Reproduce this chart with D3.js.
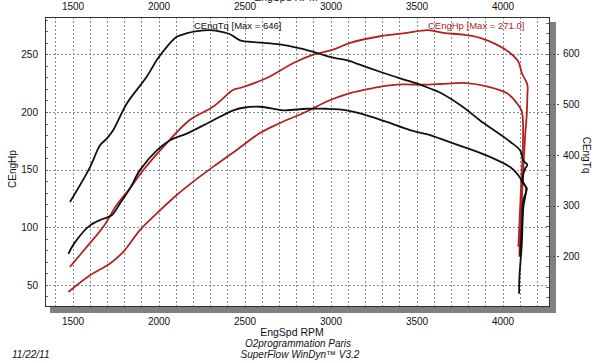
<!DOCTYPE html>
<meta charset='utf-8'>
<style>
  body { margin: 0; background: #fff; }
  text { font-family: "Liberation Sans", Arial, sans-serif; fill: #111; }
  .grid line { stroke: #8c8c8c; stroke-width: 1; stroke-dasharray: 2,2; shape-rendering: crispEdges; }
  .tick text { font-size: 10px; }
  .run { fill: none; stroke-width: 1.8; stroke-linejoin: round; }
</style>
<svg width="600" height="363"></svg>
<script src="https://d3js.org/d3.v7.min.js"></script>
<script>

// rpm ticks and grid
var rpmTicks = [1500, 2000, 2500, 3000, 3500, 4000];
var hpTicks = [50, 100, 150, 200, 250];
var tqTicks = [200, 300, 400, 500, 600];

// run A torque (black, upper)  [rpm, Nm]
var tqA = [[1485,307],[1602,376],[1660,419],[1699,432],[1737,449],[1815,501],[1931,554],[1990,587],
  [2048,613],[2106,633],[2166,640],[2224,644],[2300,646],[2375,642],[2416,638],[2474,626],[2572,622],
  [2706,618],[2823,610],[2921,601],[3015,592],[3113,585],[3152,580],[3288,564],[3404,551],[3501,541],
  [3578,531],[3636,523],[3772,494],[3869,468],[3966,445],[4044,426],[4102,409],[4121,389],[4144,380],
  [4131,373],[4117,350],[4137,334],[4121,297],[4112,225],[4098,159],[4096,126]];

// run B torque (black, lower)
var tqB = [[1476,205],[1515,228],[1602,261],[1679,274],[1728,281],[1776,304],[1834,334],[1892,370],
  [1990,409],[2067,429],[2164,442],[2299,465],[2435,488],[2493,493],[2590,495],[2726,488],[2862,491],
  [2978,491],[3094,488],[3210,478],[3327,465],[3462,449],[3579,439],[3637,432],[3772,416],[3927,396],
  [4044,376],[4092,360],[4121,343],[4141,334],[4121,311],[4112,258],[4102,202]];

// run A power (red, upper)  [rpm, hp]
var hpA = [[1485,65.7],[1583,83],[1679,100.4],[1757,119.3],[1834,133.8],[1912,149.7],[2048,173],
  [2183,193.2],[2319,204.8],[2435,219.3],[2474,220.8],[2629,229.5],[2784,242.5],[2900,249.7],
  [3016,254.1],[3113,259.9],[3288,265.7],[3443,268.6],[3567,271.0],[3656,268.6],[3772,267.1],
  [3869,264.3],[3966,258.4],[4044,251.2],[4092,243.7],[4112,233.8],[4144,223.7],[4144,213.5],
  [4141,199],[4131,178.7],[4121,152.6],[4112,123.7],[4102,94.7],[4098,74.3]];

// run B power (red, lower)
var hpB = [[1476,43.9],[1602,58.4],[1718,68.6],[1795,78.7],[1892,97.6],[1990,112.1],[2106,128],
  [2202,139.6],[2319,152.6],[2455,167.1],[2590,181.7],[2706,190.4],[2862,200.4],[2978,209.1],
  [3113,216.4],[3249,220.8],[3385,223.7],[3540,223.7],[3637,224.3],[3792,225.1],[3908,222.2],
  [4024,216.4],[4083,207.7],[4112,200.4],[4119,175.8],[4108,135.9],[4092,83]];

var svg = d3.select("svg");
var L = 45, R = 549, T = 17, B = 306;

var x = d3.scaleLinear().domain([1340, 4270]).range([L, R]);
var yHp = d3.scaleLinear().domain([31.7, 282.4]).range([B, T]);
var yTq = d3.scaleLinear().domain([102, 672]).range([B, T]);

// shadow of the plot box
svg.append("rect").attr("x", R + 1).attr("y", T + 5).attr("width", 6).attr("height", B - T + 1)
  .attr("fill", "#808080");
svg.append("rect").attr("x", L + 5).attr("y", B + 1).attr("width", R - L + 2).attr("height", 6)
  .attr("fill", "#808080");

// grid
var grid = svg.append("g").attr("class", "grid");
grid.selectAll("line.v").data(d3.range(1400, 4300, 100)).enter().append("line").attr("class", "v")
  .attr("x1", d => Math.round(x(d)) + 0.5).attr("x2", d => Math.round(x(d)) + 0.5)
  .attr("y1", T).attr("y2", B);
grid.selectAll("line.h").data(hpTicks).enter().append("line").attr("class", "h")
  .attr("y1", d => Math.round(yHp(d)) + 0.5).attr("y2", d => Math.round(yHp(d)) + 0.5)
  .attr("x1", L).attr("x2", R);

// minor ticks
svg.append("g").selectAll("line").data(d3.range(40, 281, 10)).enter().append("line")
  .attr("x1", L).attr("x2", L + 3)
  .attr("y1", d => Math.round(yHp(d)) + 0.5).attr("y2", d => Math.round(yHp(d)) + 0.5)
  .attr("stroke", "#666");
svg.append("g").selectAll("line").data(d3.range(120, 661, 20)).enter().append("line")
  .attr("x1", R - 3).attr("x2", R)
  .attr("y1", d => Math.round(yTq(d)) + 0.5).attr("y2", d => Math.round(yTq(d)) + 0.5)
  .attr("stroke", "#666");

// frame
svg.append("rect").attr("x", L + 0.5).attr("y", T + 0.5).attr("width", R - L).attr("height", B - T)
  .attr("fill", "none").attr("stroke", "#333");

// axes
function clean(g) {
  g.select(".domain").remove();
  g.selectAll(".tick line").remove();
}
svg.append("g").attr("transform", "translate(0," + (B + 9) + ")")
  .call(d3.axisBottom(x).tickValues(rpmTicks).tickSize(0).tickFormat(d3.format("d")))
  .call(clean);
svg.append("g").attr("transform", "translate(0,13)")
  .call(d3.axisTop(x).tickValues(rpmTicks).tickSize(0).tickFormat(d3.format("d")))
  .call(clean);
svg.append("g").attr("transform", "translate(" + (L - 4) + ",0)")
  .call(d3.axisLeft(yHp).tickValues(hpTicks).tickSize(0).tickFormat(d3.format("d")))
  .call(clean);
svg.append("g").attr("transform", "translate(" + (R + 11) + ",0)")
  .call(d3.axisRight(yTq).tickValues(tqTicks).tickSize(0).tickFormat(d3.format("d")))
  .call(clean);
svg.append("g").attr("class", "grid").selectAll("line").data(tqTicks).enter().append("line")
  .attr("x1", R).attr("x2", R + 10)
  .attr("y1", d => Math.round(yTq(d)) + 0.5).attr("y2", d => Math.round(yTq(d)) + 0.5)
  .style("stroke", "#555");
svg.selectAll(".tick text").attr("fill", "#111");

// curves
var lineTq = d3.line().curve(d3.curveCatmullRom.alpha(0.5)).x(d => x(d[0])).y(d => yTq(d[1]));
var lineHp = d3.line().curve(d3.curveCatmullRom.alpha(0.5)).x(d => x(d[0])).y(d => yHp(d[1]));
var red = "#b32222";
svg.append("path").datum(hpB).attr("class", "run").attr("stroke", red).attr("d", lineHp);
svg.append("path").datum(hpA).attr("class", "run").attr("stroke", red).attr("d", lineHp);
svg.append("path").datum(tqB).attr("class", "run").attr("stroke", "#111").attr("d", lineTq);
svg.append("path").datum(tqA).attr("class", "run").attr("stroke", "#111").attr("d", lineTq);

// labels
svg.append("text").attr("x", 194).attr("y", 29).attr("font-size", 9.5)
  .text("CEngTq [Max = 646]");
svg.append("text").attr("x", 428).attr("y", 29).attr("font-size", 9.5).style("fill", red)
  .text("CEngHp [Max = 271.0]");
svg.append("text").attr("transform", "translate(16,169) rotate(-90)").attr("text-anchor", "middle")
  .attr("font-size", 10).text("CEngHp");
svg.append("text").attr("transform", "translate(583,155) rotate(90)").attr("text-anchor", "middle")
  .attr("font-size", 10).text("CEngTq");
svg.append("text").attr("x", 286).attr("y", 1).attr("text-anchor", "middle")
  .attr("font-size", 10.5).text("EngSpd RPM");
svg.append("text").attr("x", 292).attr("y", 336).attr("text-anchor", "middle")
  .attr("font-size", 10.5).text("EngSpd RPM");
svg.append("text").attr("x", 298).attr("y", 347).attr("text-anchor", "middle")
  .attr("font-size", 10).attr("font-style", "italic").text("O2programmation Paris");
svg.append("text").attr("x", 300).attr("y", 358).attr("text-anchor", "middle")
  .attr("font-size", 10).attr("font-style", "italic").text("SuperFlow WinDyn\u2122 V3.2");
svg.append("text").attr("x", 12).attr("y", 358)
  .attr("font-size", 10).attr("font-style", "italic").text("11/22/11");

</script>
